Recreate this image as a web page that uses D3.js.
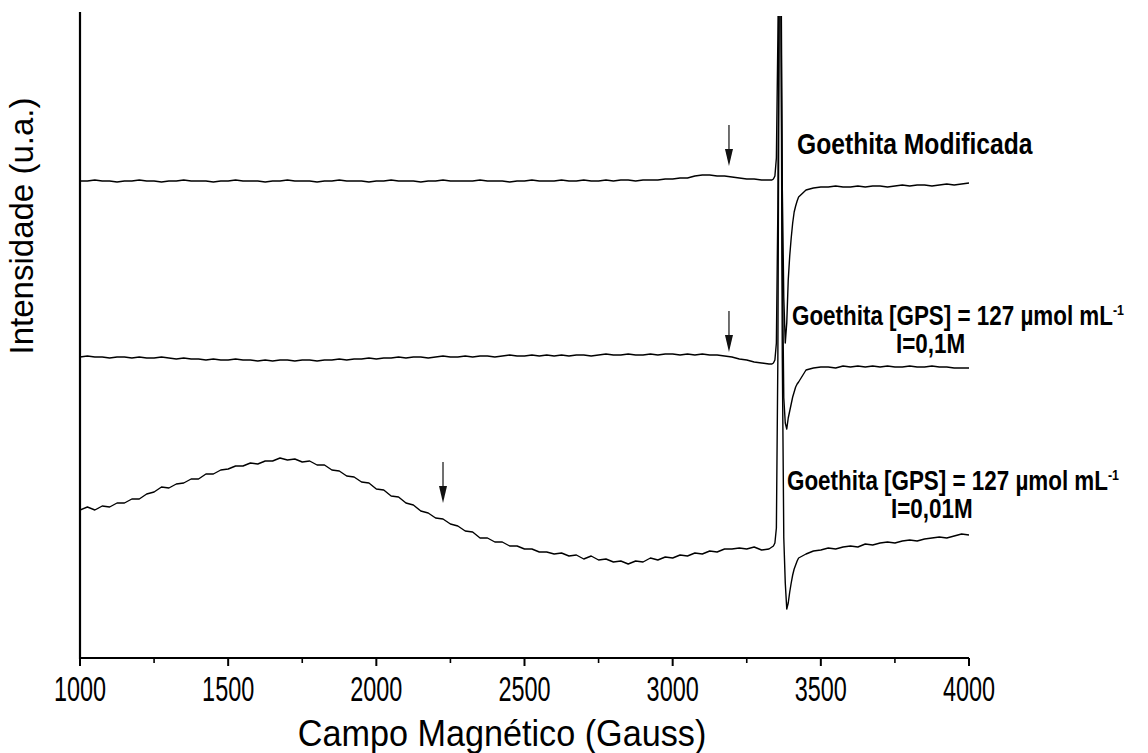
<!DOCTYPE html>
<html>
<head>
<meta charset="utf-8">
<script src="https://cdn.jsdelivr.net/npm/d3@7"></script>
<style>
  html, body { margin: 0; padding: 0; background: #fff; }
  svg { display: block; }
</style>
</head>
<body>
<svg id="chart" width="1148" height="753"></svg>
<script>
// Magnetic field sampling grid (Gauss): coarse baseline, fine around the g≈2 signal
const field = [
  1000,1025,1050,1075,1100,1125,1150,1175,1200,1225,
  1250,1275,1300,1325,1350,1375,1400,1425,1450,1475,
  1500,1525,1550,1575,1600,1625,1650,1675,1700,1725,
  1750,1775,1800,1825,1850,1875,1900,1925,1950,1975,
  2000,2025,2050,2075,2100,2125,2150,2175,2200,2225,
  2250,2275,2300,2325,2350,2375,2400,2425,2450,2475,
  2500,2525,2550,2575,2600,2625,2650,2675,2700,2725,
  2750,2775,2800,2825,2850,2875,2900,2925,2950,2975,
  3000,3025,3050,3075,3100,3125,3150,3175,3200,3225,
  3250,3275,3300,3325,
  3330,3335,3340,3345,3350,3355,3360,3365,3370,3375,
  3380,3385,3390,3395,3400,3405,3410,3415,3420,
  3425,3450,3475,3500,3525,3550,3575,3600,3625,3650,
  3675,3700,3725,3750,3775,3800,3825,3850,3875,3900,
  3925,3950,3975,4000
];

// EPR intensity (u.a.), spectra stacked with vertical offsets
const goethitaModificada = [
  477,477,478,477,477,476,477,477,478,477,
  477,476,477,477,478,477,477,477,476,477,
  477,478,477,477,477,476,477,477,478,477,
  477,477,476,477,477,478,477,477,477,476,
  477,477,478,477,477,477,476,477,477,478,
  477,477,477,477,478,477,477,477,476,477,
  477,478,477,477,477,478,477,477,478,477,
  477,478,477,478,478,477,478,478,478,479,
  479,480,480,482,483,483,482,482,481,480,
  479,479,478,478,
  478,478,479,482,500,620,760,740,470,360,
  315,335,378,402,420,435,446,452,457,
  461,468,470,471,471,472,471,471,472,471,
  472,472,471,472,473,472,473,473,472,473,
  474,473,474,475
];

const goethitaI01 = [
  301,302,301,301,300,301,301,300,301,300,
  300,301,300,299,300,299,299,298,299,298,
  298,299,298,298,297,298,297,298,298,297,
  298,298,297,298,298,299,298,299,299,300,
  299,300,300,301,300,301,301,300,301,302,
  301,301,302,301,302,302,301,302,303,302,
  302,303,302,303,302,303,302,303,303,302,
  303,304,303,303,304,303,303,304,303,304,
  304,303,304,303,304,303,303,302,301,299,
  298,296,295,294,
  294,294,295,298,315,450,720,700,400,260,
  235,229,240,247,254,261,266,271,274,
  276,288,290,291,291,290,292,291,292,291,
  292,291,292,291,291,292,291,291,292,291,
  291,290,290,290
];

const goethitaI001 = [
  148,151,148,152,151,155,155,159,159,164,
  166,171,170,174,175,179,179,184,184,188,
  189,192,192,195,194,197,197,200,198,199,
  196,197,193,193,188,187,182,181,176,175,
  169,168,162,161,155,153,147,145,140,139,
  134,132,127,126,120,120,116,116,112,112,
  109,109,106,106,104,105,102,103,99,102,
  98,99,96,97,94,97,96,100,98,101,
  100,103,102,105,104,107,106,109,109,110,
  109,111,108,109,
  110,111,112,115,130,300,700,700,300,120,
  75,49,55,66,75,83,89,93,97,
  100,104,107,108,110,109,111,112,111,114,
  113,115,116,115,117,118,117,119,120,121,
  120,122,124,123
];

const xTickValues = [1000, 1500, 2000, 2500, 3000, 3500, 4000];
const xMinorTickValues = [1250, 1750, 2250, 2750, 3250, 3750];

// Arrows marking the weak resonance in each spectrum
const arrowFields = [3190, 3190, 2225];
const arrowTips = [492, 306, 155];

const seriesList = [goethitaModificada, goethitaI01, goethitaI001];

const svg = d3.select("#chart");
const W = 1148, H = 753;
const plot = { left: 80, right: 969, top: 16, bottom: 658 };

const x = d3.scaleLinear().domain([1000, 4000]).range([plot.left, plot.right]);
const y = d3.scaleLinear().domain([0, 640]).range([plot.bottom, plot.top + 2]);

svg.append("rect").attr("width", W).attr("height", H).attr("fill", "#fff");

svg.append("defs").append("clipPath").attr("id", "plotClip")
  .append("rect")
  .attr("x", plot.left).attr("y", plot.top)
  .attr("width", plot.right - plot.left + 2).attr("height", plot.bottom - plot.top);

// Spectra
const line = d3.line().x((d, i) => x(field[i])).y(d => y(d));
const spectra = svg.append("g").attr("clip-path", "url(#plotClip)");
seriesList.forEach(s => {
  spectra.append("path")
    .datum(s)
    .attr("d", line)
    .attr("fill", "none")
    .attr("stroke", "#000")
    .attr("stroke-width", 1.4)
    .attr("stroke-linejoin", "round");
});

// Arrows
const arrows = svg.append("g").attr("stroke", "#333").attr("fill", "#111");
arrowFields.forEach((f, i) => {
  const ax = x(f), ty = y(arrowTips[i]);
  arrows.append("line")
    .attr("x1", ax).attr("x2", ax)
    .attr("y1", ty - 41).attr("y2", ty - 14)
    .attr("stroke-width", 1.4);
  arrows.append("path")
    .attr("d", `M${ax - 4},${ty - 17} L${ax + 4},${ty - 17} L${ax},${ty} Z`)
    .attr("stroke", "none");
});

// X axis
const xAxis = svg.append("g").attr("transform", `translate(0,${plot.bottom})`);
xAxis.append("line")
  .attr("x1", plot.left).attr("x2", plot.right)
  .attr("stroke", "#000").attr("stroke-width", 2.2);
xAxis.selectAll(".major").data(xTickValues).join("line")
  .attr("x1", d => x(d)).attr("x2", d => x(d))
  .attr("y1", 0).attr("y2", 8)
  .attr("stroke", "#000").attr("stroke-width", 2);
xAxis.selectAll(".minor").data(xMinorTickValues).join("line")
  .attr("x1", d => x(d)).attr("x2", d => x(d))
  .attr("y1", 0).attr("y2", 5)
  .attr("stroke", "#000").attr("stroke-width", 1.6);

// Y axis (no ticks)
svg.append("line")
  .attr("x1", plot.left).attr("x2", plot.left)
  .attr("y1", plot.top - 4).attr("y2", plot.bottom + 1)
  .attr("stroke", "#000").attr("stroke-width", 2.2);

// Condensed text helper: horizontal squeeze applied around the anchor point
function ctext(parent, tx, ty, str, size, weight, sx, anchor, rotate) {
  const t = parent.append("text")
    .attr("transform", `translate(${tx},${ty})${rotate ? ` rotate(${rotate})` : ""} scale(${sx},1)`)
    .attr("font-family", "'Liberation Sans', Arial, sans-serif")
    .attr("font-size", size)
    .attr("font-weight", weight)
    .attr("text-anchor", anchor)
    .attr("fill", "#000")
    .text(str);
  return t;
}

xTickValues.forEach(v => {
  ctext(svg, x(v), 701, d3.format("d")(v), 35, "normal", 0.67, "middle");
});

ctext(svg, 502, 746, "Campo Magnético (Gauss)", 36, "normal", 0.95, "middle");
ctext(svg, 33, 226, "Intensidade (u.a.)", 33, "normal", 1, "middle", -90);

// Series labels
ctext(svg, 797, 154, "Goethita Modificada", 29, "bold", 0.85, "start");

function concLabel(tx, ty, ionic) {
  const t = ctext(svg, tx, ty, "Goethita [GPS] = 127 µmol mL", 27, "bold", 0.83, "start");
  t.append("tspan").attr("font-size", 15).attr("dy", -10).text("-1");
  ctext(svg, tx + 104, ty + 28, ionic, 27, "bold", 0.83, "start");
}
concLabel(792, 325, "I=0,1M");
concLabel(787, 490, "I=0,01M");
</script>
</body>
</html>
